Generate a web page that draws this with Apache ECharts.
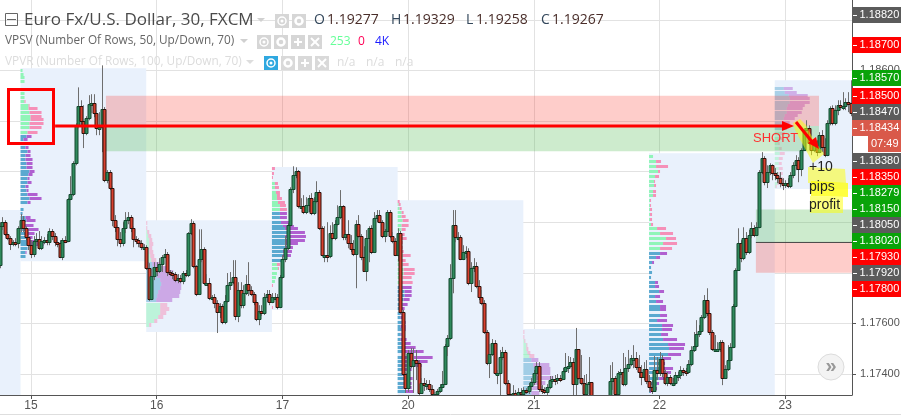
<!DOCTYPE html>
<html><head><meta charset="utf-8">
<style>html,body{margin:0;padding:0;background:#fff}#c{width:901px;height:415px}</style>
<script src="https://cdn.jsdelivr.net/npm/echarts@6/dist/echarts.min.js"></script>
</head><body><div id="c"></div>
<script>
// --- values; bar index is half-hours since the "15" tick
const firstBar = -12;
const firstOpen = 1.17831;
const closes = [
1.17985,1.18000,1.17953,1.17937,1.17913,1.17921,1.17917,1.17977,1.18008,1.17977,
1.17941,1.17909,1.17874,1.17925,1.17933,1.17898,1.17925,1.17929,1.17921,1.17965,
1.17945,1.17921,1.17917,1.17862,1.17929,1.17925,1.18091,1.18111,1.18233,1.18383,
1.18458,1.18399,1.18352,1.18411,1.18466,1.18470,1.18431,1.18372,1.18376,1.18447,
1.18166,1.18198,1.18135,1.18008,1.17980,1.17933,1.17917,1.17977,1.18008,1.18020,
1.17977,1.17933,1.17929,1.17917,1.17901,1.17901,1.17818,1.17696,1.17787,1.17822,
1.17807,1.17834,1.17862,1.17874,1.17803,1.17799,1.17795,1.17771,1.17779,1.17767,
1.17799,1.17791,1.17957,1.17996,1.17826,1.17716,1.17854,1.17893,1.17759,1.17759,
1.17700,1.17704,1.17680,1.17645,1.17668,1.17605,1.17688,1.17751,1.17763,1.17783,
1.17629,1.17732,1.17672,1.17720,1.17755,1.17732,1.17716,1.17684,1.17617,1.17649,
1.17641,1.17704,1.17716,1.17684,1.17704,1.17704,1.17664,1.17783,1.17854,1.17897,
1.17988,1.18131,1.18186,1.18202,1.18063,1.18063,1.18040,1.18067,1.18095,1.18036,
1.18083,1.18119,1.17976,1.17870,1.17870,1.17866,1.17957,1.17937,1.17992,1.18020,
1.18063,1.17941,1.17953,1.17917,1.17893,1.17874,1.17992,1.17945,1.17862,1.17807,
1.17937,1.17976,1.17882,1.18016,1.18028,1.18000,1.17945,1.17965,1.18040,1.17945,
1.17925,1.17870,1.17957,1.17645,1.17400,1.17344,1.17483,1.17431,1.17455,1.17443,
1.17325,1.17364,1.17356,1.17360,1.17340,1.17321,1.17321,1.17333,1.17348,1.17360,
1.17510,1.17542,1.17779,1.17988,1.17941,1.17941,1.17854,1.17882,1.17886,1.17759,
1.17818,1.17826,1.17747,1.17704,1.17680,1.17566,1.17443,1.17479,1.17522,1.17404,
1.17404,1.17467,1.17487,1.17364,1.17321,1.17313,1.17325,1.17317,1.17329,1.17321,
1.17337,1.17333,1.17352,1.17368,1.17404,1.17431,1.17340,1.17337,1.17329,1.17348,
1.17376,1.17380,1.17376,1.17384,1.17380,1.17412,1.17427,1.17431,1.17447,1.17360,
1.17499,1.17384,1.17364,1.17321,1.17360,1.17368,1.17297,1.17293,1.17289,1.17297,
1.17289,1.17297,1.17309,1.17372,1.17384,1.17321,1.17404,1.17408,1.17360,1.17423,
1.17439,1.17463,1.17463,1.17427,1.17408,1.17388,1.17420,1.17372,1.17348,1.17333,
1.17416,1.17404,1.17459,1.17404,1.17364,1.17388,1.17364,1.17364,1.17396,1.17396,
1.17416,1.17412,1.17408,1.17439,1.17495,1.17510,1.17558,1.17570,1.17625,1.17692,
1.17641,1.17566,1.17499,1.17499,1.17499,1.17526,1.17384,1.17420,1.17455,1.17506,
1.17668,1.17811,1.17917,1.17858,1.17937,1.17882,1.17949,1.17976,1.17949,1.17980,
1.18198,1.18253,1.18158,1.18198,1.18225,1.18194,1.18186,1.18174,1.18154,1.18146,
1.18154,1.18142,1.18186,1.18225,1.18245,1.18210,1.18285,1.18364,1.18372,1.18312,
1.18285,1.18304,1.18277,1.18344,1.18296,1.18265,1.18391,1.18450,1.18391,1.18443,
1.18462,1.18458,1.18458,1.18474,1.18470,1.18431];
const highs = [
1.18000,1.18020,1.18008,1.17961,1.17945,1.17929,1.17937,1.17984,1.18032,1.18024,
1.17984,1.17949,1.17929,1.17945,1.17957,1.17965,1.17945,1.17941,1.17953,1.17976,
1.17973,1.17957,1.17937,1.17929,1.17937,1.17945,1.18095,1.18182,1.18241,1.18391,
1.18533,1.18482,1.18462,1.18419,1.18502,1.18506,1.18506,1.18443,1.18435,1.18620,
1.18455,1.18206,1.18206,1.18142,1.18028,1.17988,1.17961,1.18000,1.18040,1.18040,
1.18028,1.17984,1.17945,1.17937,1.17929,1.17913,1.17909,1.17838,1.17803,1.17842,
1.17842,1.17858,1.17870,1.17894,1.17882,1.17811,1.17807,1.17803,1.17795,1.17791,
1.17807,1.17811,1.17961,1.18012,1.18004,1.17830,1.17972,1.17972,1.17901,1.17795,
1.17779,1.17712,1.17716,1.17692,1.17680,1.17676,1.17712,1.17799,1.17803,1.17850,
1.17850,1.17763,1.17763,1.17751,1.17791,1.17842,1.17747,1.17724,1.17692,1.17672,
1.17672,1.17720,1.17732,1.17732,1.17720,1.17720,1.17716,1.17791,1.17870,1.17945,
1.17996,1.18138,1.18221,1.18217,1.18206,1.18095,1.18107,1.18099,1.18107,1.18115,
1.18099,1.18162,1.18127,1.17984,1.17984,1.18000,1.17988,1.18000,1.18008,1.18067,
1.18127,1.18067,1.17969,1.18008,1.17949,1.17929,1.18008,1.18028,1.17953,1.17905,
1.17969,1.17984,1.17988,1.18040,1.18048,1.18048,1.18008,1.17973,1.18048,1.18048,
1.17961,1.17937,1.17976,1.17965,1.17653,1.17408,1.17495,1.17503,1.17503,1.17495,
1.17455,1.17384,1.17384,1.17376,1.17376,1.17356,1.17329,1.17341,1.17360,1.17412,
1.17518,1.17554,1.17834,1.18048,1.18048,1.17961,1.17949,1.17909,1.17905,1.17897,
1.17842,1.17858,1.17842,1.17771,1.17732,1.17692,1.17574,1.17518,1.17538,1.17534,
1.17416,1.17495,1.17507,1.17495,1.17376,1.17360,1.17356,1.17337,1.17344,1.17344,
1.17348,1.17344,1.17364,1.17384,1.17416,1.17447,1.17447,1.17356,1.17348,1.17360,
1.17392,1.17392,1.17396,1.17400,1.17396,1.17424,1.17483,1.17471,1.17467,1.17463,
1.17582,1.17495,1.17475,1.17396,1.17400,1.17467,1.17309,1.17309,1.17309,1.17309,
1.17309,1.17309,1.17317,1.17435,1.17447,1.17392,1.17412,1.17420,1.17483,1.17467,
1.17495,1.17475,1.17514,1.17487,1.17475,1.17435,1.17447,1.17455,1.17396,1.17376,
1.17471,1.17467,1.17487,1.17475,1.17416,1.17408,1.17396,1.17384,1.17408,1.17408,
1.17431,1.17424,1.17424,1.17455,1.17510,1.17566,1.17613,1.17593,1.17633,1.17712,
1.17739,1.17653,1.17574,1.17554,1.17526,1.17534,1.17534,1.17435,1.17514,1.17522,
1.17676,1.17818,1.17976,1.17929,1.17980,1.17961,1.17969,1.18000,1.17988,1.18000,
1.18206,1.18277,1.18261,1.18225,1.18233,1.18229,1.18214,1.18198,1.18198,1.18174,
1.18166,1.18174,1.18198,1.18237,1.18265,1.18257,1.18292,1.18372,1.18403,1.18383,
1.18352,1.18324,1.18324,1.18356,1.18364,1.18332,1.18403,1.18458,1.18462,1.18462,
1.18482,1.18482,1.18514,1.18490,1.18514,1.18561];
const lows = [
1.17818,1.17969,1.17945,1.17929,1.17890,1.17905,1.17905,1.17897,1.17961,1.17961,
1.17929,1.17890,1.17858,1.17862,1.17909,1.17890,1.17890,1.17913,1.17909,1.17909,
1.17929,1.17905,1.17901,1.17858,1.17850,1.17917,1.17921,1.18087,1.18103,1.18225,
1.18371,1.18383,1.18293,1.18344,1.18403,1.18431,1.18415,1.18344,1.18344,1.18277,
1.18158,1.18154,1.18127,1.17984,1.17961,1.17905,1.17901,1.17905,1.17957,1.17992,
1.17961,1.17901,1.17913,1.17901,1.17890,1.17890,1.17811,1.17688,1.17692,1.17771,
1.17787,1.17799,1.17803,1.17858,1.17787,1.17787,1.17775,1.17763,1.17759,1.17759,
1.17755,1.17783,1.17783,1.17949,1.17818,1.17708,1.17712,1.17842,1.17751,1.17751,
1.17692,1.17692,1.17660,1.17562,1.17621,1.17597,1.17597,1.17680,1.17732,1.17755,
1.17613,1.17605,1.17660,1.17660,1.17712,1.17708,1.17708,1.17672,1.17609,1.17593,
1.17629,1.17633,1.17684,1.17672,1.17680,1.17692,1.17656,1.17660,1.17775,1.17842,
1.17890,1.17984,1.18115,1.18174,1.18055,1.18055,1.18032,1.18032,1.18040,1.18028,
1.18028,1.18075,1.17969,1.17866,1.17842,1.17842,1.17858,1.17929,1.17929,1.17984,
1.18012,1.17929,1.17929,1.17897,1.17882,1.17866,1.17739,1.17937,1.17850,1.17803,
1.17767,1.17842,1.17874,1.17878,1.18000,1.17996,1.17937,1.17921,1.17961,1.17937,
1.17917,1.17866,1.17846,1.17637,1.17392,1.17325,1.17329,1.17423,1.17325,1.17376,
1.17317,1.17321,1.17333,1.17337,1.17329,1.17313,1.17313,1.17317,1.17325,1.17344,
1.17356,1.17471,1.17534,1.17719,1.17921,1.17929,1.17850,1.17850,1.17858,1.17751,
1.17724,1.17803,1.17739,1.17692,1.17672,1.17558,1.17435,1.17384,1.17471,1.17396,
1.17360,1.17317,1.17455,1.17356,1.17305,1.17297,1.17305,1.17305,1.17305,1.17305,
1.17305,1.17321,1.17321,1.17337,1.17356,1.17392,1.17329,1.17321,1.17321,1.17317,
1.17340,1.17360,1.17356,1.17360,1.17368,1.17376,1.17404,1.17404,1.17424,1.17317,
1.17317,1.17376,1.17356,1.17313,1.17313,1.17317,1.17289,1.17285,1.17281,1.17289,
1.17281,1.17289,1.17305,1.17313,1.17337,1.17313,1.17313,1.17384,1.17352,1.17352,
1.17408,1.17431,1.17423,1.17416,1.17384,1.17356,1.17376,1.17360,1.17329,1.17321,
1.17329,1.17376,1.17392,1.17388,1.17356,1.17352,1.17356,1.17352,1.17356,1.17372,
1.17380,1.17392,1.17392,1.17400,1.17431,1.17487,1.17502,1.17546,1.17562,1.17617,
1.17629,1.17554,1.17491,1.17487,1.17487,1.17487,1.17356,1.17380,1.17412,1.17451,
1.17502,1.17664,1.17811,1.17842,1.17850,1.17870,1.17874,1.17937,1.17941,1.17945,
1.17976,1.18190,1.18146,1.18135,1.18186,1.18166,1.18166,1.18154,1.18138,1.18127,
1.18135,1.18135,1.18135,1.18174,1.18206,1.18158,1.18182,1.18281,1.18332,1.18304,
1.18265,1.18277,1.18261,1.18273,1.18277,1.18257,1.18261,1.18383,1.18383,1.18383,
1.18423,1.18443,1.18443,1.18443,1.18435,1.18419];

const dayTicks = [0, 48, 96, 144, 192, 240, 288];
const dayLabels = ['15', '16', '17', '20', '21', '22', '23'];
const priceTicks = [1.174, 1.176, 1.178, 1.18, 1.182, 1.184, 1.186, 1.188];

// session blocks: first bar, last bar, top price, bottom price
const sessions = [
 [-12, -4, 1.18048, 1.17317], [-4, 44, 1.18609, 1.17846], [44, 92, 1.18008, 1.17566],
 [92, 140, 1.18218, 1.17653], [140, 188, 1.18087, 1.17317], [188, 236, 1.17578, 1.17317],
 [236, 284, 1.18273, 1.17317], [284, 313.5, 1.18561, 1.18131]];
// volume profiles: price, up volume, down volume
const profile15 = [[1.18601,2,0],[1.18585,3,0],[1.18573,4,0],[1.18557,4,0],[1.18510,4,0],[1.18494,4,0],[1.18478,4,1],[1.18462,8,1],[1.18450,8,9],[1.18435,9,12],[1.18419,10,11],[1.18407,10,13],[1.18391,9,14],[1.18376,9,12],[1.18356,7,10],[1.18340,6,5],[1.18328,3,4],[1.18297,5,3],[1.18281,7,3],[1.18265,5,5],[1.18249,5,7],[1.18233,6,6],[1.18218,6,6],[1.18202,9,5],[1.18190,8,4],[1.18174,7,2],[1.18158,7,4],[1.18142,5,3],[1.18127,6,2],[1.18111,7,10],[1.18095,9,12],[1.18079,7,3],[1.18052,3,0],[1.18036,2,0],[1.18020,5,5],[1.18008,6,9],[1.17988,5,8],[1.17973,8,10],[1.17957,7,7],[1.17941,6,6],[1.17925,8,11],[1.17913,9,14],[1.17898,7,0],[1.17882,5,1],[1.17866,5,0]];
const profile16 = [[1.17996,0,1],[1.17976,0,1],[1.17961,1,2],[1.17945,2,3],[1.17929,3,3],[1.17913,3,4],[1.17898,3,3],[1.17882,3,4],[1.17866,4,4],[1.17850,5,5],[1.17834,6,8],[1.17818,7,14],[1.17803,9,18],[1.17787,11,20],[1.17771,14,20],[1.17755,15,20],[1.17740,14,21],[1.17724,12,22],[1.17708,11,22],[1.17692,10,16],[1.17672,14,7],[1.17656,14,9],[1.17641,14,6],[1.17625,12,5],[1.17609,8,3],[1.17593,3,2]];
const profile17 = [[1.18213,0,3],[1.18194,0,2],[1.18178,0,1],[1.18154,3,3],[1.18138,3,4],[1.18119,4,4],[1.18107,5,3],[1.18095,5,5],[1.18079,6,7],[1.18067,8,6],[1.18052,8,7],[1.18036,8,7],[1.18020,8,7],[1.18000,9,9],[1.17984,11,11],[1.17976,13,13],[1.17961,15,18],[1.17945,13,21],[1.17929,14,19],[1.17917,13,13],[1.17901,14,7],[1.17886,11,9],[1.17870,11,8],[1.17850,10,0],[1.17834,5,3],[1.17818,6,1],[1.17799,5,0],[1.17783,4,0],[1.17767,3,0],[1.17751,0,1],[1.17704,0,1],[1.17664,0,1]];
const profile20 = [[1.18083,0,2],[1.18071,1,2],[1.18056,2,2],[1.18040,4,2],[1.18024,4,4],[1.18008,5,6],[1.17988,4,7],[1.17973,4,4],[1.17953,2,5],[1.17937,3,6],[1.17921,3,2],[1.17901,1,4],[1.17886,2,4],[1.17870,5,8],[1.17850,4,4],[1.17834,5,6],[1.17815,6,11],[1.17799,6,11],[1.17783,5,9],[1.17763,3,12],[1.17743,5,9],[1.17728,7,7],[1.17712,7,7],[1.17696,6,6],[1.17676,5,5],[1.17660,4,3],[1.17641,3,1],[1.17625,3,3],[1.17605,4,4],[1.17589,3,5],[1.17574,4,4],[1.17558,3,1],[1.17538,3,6],[1.17522,4,9],[1.17503,6,12],[1.17487,6,20],[1.17467,5,30],[1.17451,5,25],[1.17435,6,18],[1.17416,5,9],[1.17400,5,7],[1.17384,7,8],[1.17364,6,8],[1.17348,6,8],[1.17329,8,8]];
const profile21 = [[1.17566,0,1],[1.17546,0,1],[1.17530,1,1],[1.17514,3,1],[1.17499,3,2],[1.17483,4,3],[1.17471,6,5],[1.17455,8,7],[1.17435,10,16],[1.17420,11,16],[1.17404,12,15],[1.17384,12,18],[1.17364,10,12],[1.17344,9,10],[1.17325,8,8]];
const profile22 = [[1.18261,4,0],[1.18241,7,5],[1.18221,7,12],[1.18202,9,2],[1.18182,6,4],[1.18162,5,1],[1.18146,5,2],[1.18123,4,3],[1.18107,4,3],[1.18087,1,1],[1.18067,1,1],[1.18052,1,2],[1.18032,1,2],[1.18012,1,2],[1.17992,2,2],[1.17976,8,9],[1.17957,11,13],[1.17937,17,10],[1.17917,14,14],[1.17897,11,12],[1.17878,11,7],[1.17862,7,4],[1.17842,3,2],[1.17822,2,0],[1.17803,3,0],[1.17783,2,0],[1.17763,6,3],[1.17747,6,4],[1.17728,10,5],[1.17708,6,5],[1.17688,7,7],[1.17668,11,6],[1.17653,11,6],[1.17633,11,7],[1.17613,8,10],[1.17593,13,11],[1.17574,13,10],[1.17558,12,7],[1.17538,14,14],[1.17518,19,17],[1.17499,20,15],[1.17479,19,13],[1.17463,13,9],[1.17443,11,5],[1.17423,10,14],[1.17404,10,12],[1.17384,10,9],[1.17364,8,2],[1.17344,5,3],[1.17329,1,1]];
const profile23 = [[1.18529,9,9],[1.18514,10,12],[1.18502,14,19],[1.18490,15,20],[1.18474,15,20],[1.18462,13,17],[1.18450,12,16],[1.18435,12,15],[1.18423,10,13],[1.18411,9,11],[1.18396,7,8],[1.18383,6,7],[1.18372,6,6],[1.18352,5,5],[1.18332,4,4],[1.18312,3,2],[1.18292,4,3],[1.18273,5,5],[1.18253,4,4],[1.18233,4,3],[1.18214,4,4],[1.18194,4,4],[1.18174,4,4],[1.18154,3,2],[1.18142,1,1]];
const profiles = [profile15, profile16, profile17, profile20, profile21, profile22, profile23];
const profileStart = [-4, 44, 92, 140, 188, 236, 284];
const valueArea = [[1.18344,1.17],[1.17842,1.17684],[1.18044,1.17842],[1.17755,1.17],[1.17463,1.17],[1.17886,1.17],[1.19,1.18364]];
const profileFade = [1, .5, 1, 1, .5, 1, .45];

// zones: first bar, last bar, top price, bottom price, kind
const zones = [[28.6, 300.9, 1.185, 1.1838, 'r'], [28.6, 300.9, 1.1838, 1.1828, 'g'],
               [276.8, 313.5, 1.1805, 1.1792, 'g'], [276.8, 313.5, 1.1792, 1.178, 'r']];
const entryLine = [9.2, 287, 1.1838];
const stopLine = [276.8, 313.5, 1.1792];

const priceTags = [['1.18820','#5b5b5b'],['1.18700','#ff0000'],['1.18570','#09a309'],['1.18500','#ff0000'],['1.18470','#5b5b5b'],['1.18434','#d9594a'],['07:49','#d9594a'],['1.18380','#5b5b5b'],['1.18350','#ff0000'],['1.18279','#09a309'],['1.18150','#09a309'],['1.18050','#5b5b5b'],['1.18020','#09a309'],['1.17930','#ff0000'],['1.17920','#5b5b5b'],['1.17800','#ff0000']];
const tagCentres = [15,45,78,96,112,128,144,161,177,193,209,225,241,257,273,289];

// ---- build
const opens = closes.map((c, i) => i ? closes[i - 1] : firstOpen);
const candleRows = closes.map((c, i) => [firstBar + i, opens[i], c, lows[i], highs[i]]);
const profileRows = [];
profiles.forEach((rows, s) => rows.forEach(r => profileRows.push([profileStart[s], r[0], r[1], r[2], s])));
const F = 'Liberation Sans, Arial, sans-serif';

const clipRect = (p, r) => echarts.graphic.clipRectByRect(r, {x: p.coordSys.x, y: p.coordSys.y, width: p.coordSys.width, height: p.coordSys.height});
function rectItem(x1, y1, x2, y2, style, p) {
  const shape = clipRect(p, {x: x1, y: y1, width: x2 - x1, height: y2 - y1});
  return shape ? {type: 'rect', shape, style} : {type: 'group', children: []};
}
const series = [
 {type: 'custom', name: 'Sessions', z: 1, silent: true, clip: true,
  data: sessions, encode: {x: [0, 1], y: [2, 3]},
  renderItem(p, api) {
    const a = api.coord([api.value(0), api.value(2)]), b = api.coord([api.value(1), api.value(3)]);
    return rectItem(a[0], a[1], b[0], b[1], {fill: '#e9f1fc'}, p);
  }},
 {type: 'custom', name: 'Volume profile', z: 2, silent: true, clip: true,
  data: profileRows, encode: {x: 0, y: 1},
  renderItem(p, api) {
    const start = api.value(0), price = api.value(1), up = api.value(2), down = api.value(3), s = api.value(4);
    const c = api.coord([start, price]);
    const h = (s === 1 || s === 4) ? 4 : 3;
    const va = price <= valueArea[s][0] && price >= valueArea[s][1];
    const o = profileFade[s];
    const y = Math.round(c[1] - h / 2), x = c[0];
    return {type: 'group', children: [
      {type: 'rect', shape: {x, y, width: up, height: h}, style: {fill: va ? '#5aa9d0' : '#90f5b8', opacity: o}},
      {type: 'rect', shape: {x: x + up, y, width: down, height: h}, style: {fill: va ? '#b060d0' : '#f590b8', opacity: o}}
    ]};
  }},
 {type: 'custom', name: 'Zones', z: 3, silent: true, clip: true,
  data: zones, encode: {x: [0, 1], y: [2, 3]},
  renderItem(p, api) {
    const i = p.dataIndex, z = zones[i];
    const a = api.coord([z[0], z[2]]), b = api.coord([z[1], z[3]]);
    const red = z[4] === 'r';
    return rectItem(a[0], a[1], b[0], b[1], {fill: red ? 'rgba(250,60,50,0.26)' : 'rgba(70,180,70,0.27)'}, p);
  }},
 {type: 'custom', name: 'EURUSD', z: 4, silent: true, clip: true,
  data: candleRows, encode: {x: 0, y: [1, 2, 3, 4]},
  renderItem(p, api) {
    const k = api.value(0), o = api.value(1), c = api.value(2), l = api.value(3), h = api.value(4);
    const x = Math.round(api.coord([k, c])[0]) + .5;
    const yo = api.coord([k, o])[1], yc = api.coord([k, c])[1], yl = api.coord([k, l])[1], yh = api.coord([k, h])[1];
    const up = c >= o;
    const top = Math.round(Math.min(yo, yc)), bot = Math.max(Math.round(Math.max(yo, yc)), top + 2);
    return {type: 'group', children: [
      {type: 'line', shape: {x1: x, y1: yh, x2: x, y2: yl}, style: {stroke: '#6e6e6e', lineWidth: 1}},
      {type: 'rect', shape: {x: x - 1.5, y: top + .5, width: 3, height: bot - top},
       style: {fill: up ? '#2f8a5c' : '#d8402e', stroke: up ? '#14482f' : '#2e100b', lineWidth: 1}}
    ]};
  }},
 {type: 'custom', name: 'Stop line', z: 5, silent: true, clip: true,
  data: [stopLine], encode: {x: [0, 1], y: 2},
  renderItem(p, api) {
    const a = api.coord([api.value(0), api.value(2)]), b = api.coord([api.value(1), api.value(2)]);
    return {type: 'line', shape: {x1: a[0], y1: a[1], x2: b[0], y2: b[1]}, style: {stroke: '#444', lineWidth: 1}};
  }},
 {type: 'custom', name: 'Entry line', z: 6, silent: true, clip: true,
  data: [entryLine], encode: {x: [0, 1], y: 2},
  renderItem(p, api) {
    const a = api.coord([api.value(0), api.value(2)]), b = api.coord([api.value(1), api.value(2)]);
    return {type: 'line', shape: {x1: a[0], y1: a[1], x2: b[0], y2: b[1]}, style: {stroke: '#ff0000', lineWidth: 3}};
  }}
];

// ---- header, tags, annotations
const g = [];
const T = (text, x, y, size, fill, extra) => g.push(Object.assign({type: 'text', z: 50, silent: true,
  style: Object.assign({text, x, y, fill, font: size + 'px ' + F, textAlign: 'left', textVerticalAlign: 'middle'}, extra || {})}));
const R = (x, y, w, h, fill, z) => g.push({type: 'rect', z: z || 49, silent: true, shape: {x, y, width: w, height: h}, style: {fill}});
const P = (points, fill) => g.push({type: 'polygon', z: 48, silent: true, shape: {points}, style: {fill}});

// title row
g.push({type: 'rect', z: 49, silent: true, shape: {x: 5.5, y: 13.5, width: 12, height: 12}, style: {fill: 'none', stroke: '#666', lineWidth: 1}});
g.push({type: 'line', z: 49, silent: true, shape: {x1: 7, y1: 19.5, x2: 16, y2: 19.5}, style: {stroke: '#666'}});
T('Euro Fx/U.S. Dollar, 30, FXCM', 24, 20, 17, '#4a4a4a', {font: '17px Open Sans, sans-serif'});
[['O', 314], ['H', 391], ['L', 466], ['C', 541]].forEach(a => T(a[0], a[1], 20, 14, '#33475b', {font: '14px Open Sans, sans-serif'}));
[['1.19277', 327], ['1.19329', 403], ['1.19258', 476], ['1.19267', 552]].forEach(a => T(a[0], a[1], 20, 14, '#4a2e2a', {font: '14px Open Sans, sans-serif'}));
T('VPSV (Number Of Rows, 50, Up/Down, 70)', 5, 41, 12, '#666666', {font: '11.8px Open Sans, sans-serif'});
T('VPVR (Number Of Rows, 100, Up/Down, 70)', 5, 62, 12, '#dcdcdc', {font: '11.8px Open Sans, sans-serif'});
T('253', 330, 41.5, 12, '#66ff99', {font: '12px Open Sans, sans-serif'});
T('0', 358, 41.5, 12, '#ff0055', {font: '12px Open Sans, sans-serif'});
T('4K', 375, 41.5, 12, '#1a1aff', {font: '12px Open Sans, sans-serif'});
[337, 366, 395].forEach(x => T('n/a', x, 63, 12, '#dcdcdc', {font: '12px Open Sans, sans-serif'}));
[[257, 20, '#d0d0d0'], [240, 41, '#d0d0d0'], [246, 62, '#dddddd']].forEach(a =>
  P([[a[0], a[1] - 2], [a[0] + 8, a[1] - 2], [a[0] + 4, a[1] + 2]], a[2]));

function icon(kind, x, y, bg) {
  R(x, y, 14, 14, bg, 49);
  const cx = x + 7, cy = y + 7;
  if (kind === 'eye') {
    g.push({type: 'circle', z: 50, silent: true, shape: {cx, cy, r: 4}, style: {fill: 'none', stroke: '#fff', lineWidth: 1.5}});
    g.push({type: 'circle', z: 50, silent: true, shape: {cx, cy, r: 1.5}, style: {fill: '#fff'}});
  } else if (kind === 'gear') {
    g.push({type: 'circle', z: 50, silent: true, shape: {cx, cy, r: 3.5}, style: {fill: 'none', stroke: '#fff', lineWidth: 2.5}});
  } else if (kind === 'plus') {
    R(x + 3, cy - 1, 8, 2, '#fff', 50); R(cx - 1, y + 3, 2, 8, '#fff', 50);
  } else {
    g.push({type: 'line', z: 50, silent: true, shape: {x1: x + 3, y1: y + 3, x2: x + 11, y2: y + 11}, style: {stroke: '#fff', lineWidth: 2}});
    g.push({type: 'line', z: 50, silent: true, shape: {x1: x + 11, y1: y + 3, x2: x + 3, y2: y + 11}, style: {stroke: '#fff', lineWidth: 2}});
  }
}
icon('eye', 275, 14, '#d6d6d6'); icon('gear', 292, 14, '#d6d6d6');
icon('eye', 257, 35, '#d6d6d6'); icon('gear', 274, 35, '#d6d6d6'); icon('plus', 291, 35, '#d6d6d6'); icon('x', 308, 35, '#d6d6d6');
icon('eye', 264, 56, '#2fa8e0'); icon('gear', 281, 56, '#d9d9d9'); icon('plus', 298, 56, '#d9d9d9'); icon('x', 315, 56, '#d9d9d9');

// annotations
g.push({type: 'rect', z: 49, silent: true, shape: {x: 8.5, y: 89.5, width: 45, height: 54}, style: {fill: 'none', stroke: '#ff0000', lineWidth: 3}});
P([[793,123],[800,119],[806,125],[810,133],[815,142],[823,152],[824,154],[813,163],[802,143],[795,130]], 'rgba(255,255,0,0.5)');
P([[808,167],[845,169],[846,183],[808,183]], 'rgba(255,255,0,0.5)');
P([[811,181],[848,183],[848,197],[811,196]], 'rgba(255,255,0,0.75)');
P([[810,196],[843,197],[843,213],[810,213]], 'rgba(255,255,0,0.5)');
P([[782,121],[794,126],[782,131]], '#ff0000');
g.push({type: 'line', z: 49, silent: true, shape: {x1: 796, y1: 122, x2: 813, y2: 143}, style: {stroke: '#ff0000', lineWidth: 3}});
P([[808,143],[816,137],[819,149]], '#ff0000');
T('SHORT', 753, 138, 13, '#ff3030');
T('+10', 809, 167, 14, '#222');
T('pips', 809, 187, 14, '#222');
T('profit', 809, 205, 14, '#222');

// price tags
priceTags.forEach((t, i) => {
  const cy = tagCentres[i], isTimer = t[0] === '07:49';
  R(isTimer ? 868 : 852, cy - 8, isTimer ? 33 : 49, 16, t[1], 60);
  if (!isTimer) R(853, cy, 4, 1, '#fff', 61);
  T(t[0], isTimer ? 871 : 859.5, cy, 11, '#fff', {font: '11px Liberation Sans, Arial, sans-serif'});
  g[g.length - 1].z = 61;
});

// scroll button & footer rule
g.push({type: 'circle', z: 50, silent: true, shape: {cx: 831, cy: 367, r: 13}, style: {fill: '#f3f3f3', stroke: '#dcdcdc', lineWidth: 1}});
T('»', 831, 366, 20, '#999', {font: 'bold 20px Liberation Sans, sans-serif', textAlign: 'center'});
g.push({type: 'line', z: 50, silent: true, shape: {x1: 0, y1: 414.5, x2: 901, y2: 414.5}, style: {stroke: '#dedede'}});

const chart = echarts.init(document.getElementById('c'), null, {renderer: 'canvas'});
chart.setOption({
  animation: false,
  backgroundColor: '#fff',
  grid: {left: 0, right: 49, top: 0, bottom: 20, containLabel: false, outerBoundsMode: 'none'},
  xAxis: {type: 'value', min: -11.84, max: 313.5,
    axisLine: {show: true, onZero: false, lineStyle: {color: '#555', width: 1}},
    axisTick: {show: true, length: 4, lineStyle: {color: '#555'}, customValues: dayTicks},
    splitLine: {show: true, lineStyle: {color: '#e2e2e2', width: 1}},
    axisLabel: {customValues: dayTicks, color: '#555', fontSize: 12, fontFamily: F, margin: 5,
      formatter: v => dayLabels[dayTicks.indexOf(v)] || ''}},
  yAxis: {type: 'value', position: 'right', min: 1.17317, max: 1.188783,
    axisLine: {show: true, onZero: false, lineStyle: {color: '#555', width: 1}},
    axisTick: {show: true, length: 4, lineStyle: {color: '#555'}, customValues: priceTicks},
    splitLine: {show: true, lineStyle: {color: '#e2e2e2', width: 1}},
    axisLabel: {customValues: priceTicks, color: '#555', fontSize: 11, fontFamily: F, margin: 8,
      formatter: v => v.toFixed(5)}},
  series,
  graphic: {elements: g}
});
</script></body></html>
